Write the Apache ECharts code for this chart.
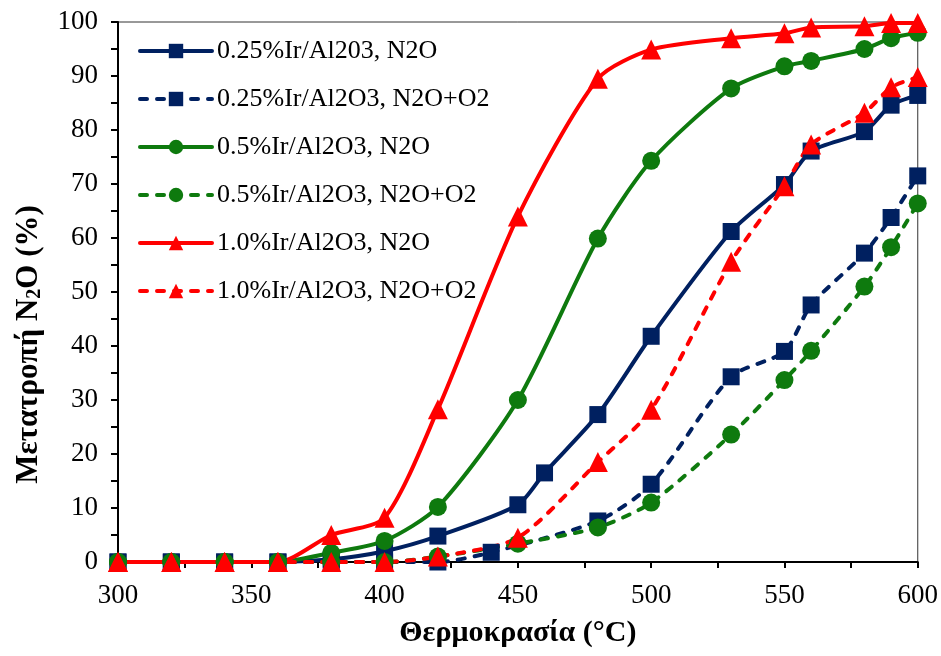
<!DOCTYPE html>
<html>
<head>
<meta charset="utf-8">
<script src="https://cdn.jsdelivr.net/npm/echarts@6/dist/echarts.min.js"></script>
<style>
  html, body { margin: 0; padding: 0; background: #fff; }
  #chart { width: 941px; height: 656px; }
</style>
</head>
<body>
<div id="chart"></div>
<script>
// temperatures (°C) measured
const temps = [300, 320, 340, 360, 380, 400, 420, 440, 450, 460, 480, 500, 530, 550, 560, 580, 590, 600]

// N2O conversion (%) — null where no point was measured
const ir025N2O   = [0, 0, 0, 0, 0.5, 2, 4.8, null, 10.6, 16.5, 27.3, 41.8, 61.2, 69.9, 76.1, 79.7, 84.6, 86.4]
const ir025N2OO2 = [0, 0, 0, 0, 0, 0, 0, 1.8, null, null, 7.6, 14.4, 34.3, 39, 47.6, 57.2, 63.8, 71.5]
const ir05N2O    = [0, 0, 0, 0, 1.7, 3.9, 10.2, null, 30, null, 59.9, 74.3, 87.7, 91.8, 92.8, 95, 97, 98]
const ir05N2OO2  = [0, 0, 0, 0, 0, 0, 1, null, 3.4, null, 6.4, 11, 23.6, 33.7, 39.1, 51, 58.3, 66.4]
const ir10N2O    = [0, 0, 0, 0, 5, 8.2, 28.3, null, 64, null, 89.5, 94.9, 97, 97.9, 99, 99.2, 99.8, 99.8]
const ir10N2OO2  = [0, 0, 0, 0, 0, 0, 1, null, 4.5, null, 18.5, 28.2, 55.6, 69.6, 77.3, 83.2, 87.9, 89.8]

const seriesNames = [
  '0.25%Ir/Al203, N2O',
  '0.25%Ir/Al2O3, N2O+O2',
  '0.5%Ir/Al2O3, N2O',
  '0.5%Ir/Al2O3, N2O+O2',
  '1.0%Ir/Al2O3, N2O',
  '1.0%Ir/Al2O3, N2O+O2'
]

const navy = '#002060'
const green = '#0E7A0E'
const red = '#FF0000'
const serif = 'Liberation Serif'

function pairs(vals) {
  const out = []
  vals.forEach((v, i) => { if (v !== null) out.push([temps[i], v]) })
  return out
}

function makeSeries(name, vals, color, symbol, size, dashed) {
  return {
    name: name,
    type: 'line',
    data: pairs(vals),
    smooth: 0.25,
    symbol: symbol,
    symbolSize: size,
    itemStyle: { color: color },
    lineStyle: {
      color: color,
      width: 4,
      type: dashed ? [7, 10] : 'solid',
      cap: 'round'
    },
    emphasis: { disabled: true }
  }
}

const chart = echarts.init(document.getElementById('chart'))

chart.setOption({
  animation: false,
  backgroundColor: '#fff',
  grid: {
    left: 118, right: 23, top: 22, bottom: 94,
    show: true, borderColor: '#333', borderWidth: 1, backgroundColor: 'transparent'
  },
  legend: {
    orient: 'vertical',
    left: 138,
    top: 38,
    padding: 0,
    itemWidth: 72,
    itemHeight: 18,
    itemGap: 22,
    lineStyle: { width: 4 },
    textStyle: { fontFamily: serif, fontSize: 26, lineHeight: 26, color: '#000' },
    data: seriesNames
  },
  xAxis: {
    type: 'value',
    min: 300, max: 600, interval: 50,
    name: 'Θερμοκρασία (°C)',
    nameLocation: 'middle',
    nameGap: 56,
    nameTextStyle: { fontFamily: serif, fontSize: 30, fontWeight: 'bold', color: '#000' },
    axisLine: { lineStyle: { color: '#000', width: 2 } },
    axisTick: { lineStyle: { color: '#000', width: 2 }, length: 6 },
    minorTick: { show: true, splitNumber: 2, length: 6, lineStyle: { color: '#000', width: 2 } },
    axisLabel: { fontFamily: serif, fontSize: 27, color: '#000', margin: 20 },
    splitLine: { show: false }
  },
  yAxis: {
    type: 'value',
    min: 0, max: 100, interval: 10,
    name: '{a|Μετατροπή N}{s|2}{a|O (%)}',
    nameLocation: 'middle',
    nameGap: 73,
    nameTextStyle: {
      padding: [0, 105, 0, 0],
      rich: {
        a: { fontFamily: serif, fontSize: 31, fontWeight: 'bold', color: '#000' },
        s: { fontFamily: serif, fontSize: 20, fontWeight: 'bold', color: '#000', padding: [12, 0, 0, 0] }
      }
    },
    axisLine: { lineStyle: { color: '#000', width: 2 } },
    axisTick: { lineStyle: { color: '#000', width: 2 }, length: 7 },
    minorTick: { show: true, splitNumber: 2, length: 7, lineStyle: { color: '#000', width: 2 } },
    axisLabel: { fontFamily: serif, fontSize: 27, color: '#000', margin: 20 },
    splitLine: { show: false }
  },
  series: [
    makeSeries(seriesNames[0], ir025N2O, navy, 'rect', 17, false),
    makeSeries(seriesNames[1], ir025N2OO2, navy, 'rect', 17, true),
    makeSeries(seriesNames[2], ir05N2O, green, 'circle', 18, false),
    makeSeries(seriesNames[3], ir05N2OO2, green, 'circle', 18, true),
    makeSeries(seriesNames[4], ir10N2O, red, 'triangle', 20, false),
    makeSeries(seriesNames[5], ir10N2OO2, red, 'triangle', 20, true)
  ]
})
</script>
</body>
</html>
